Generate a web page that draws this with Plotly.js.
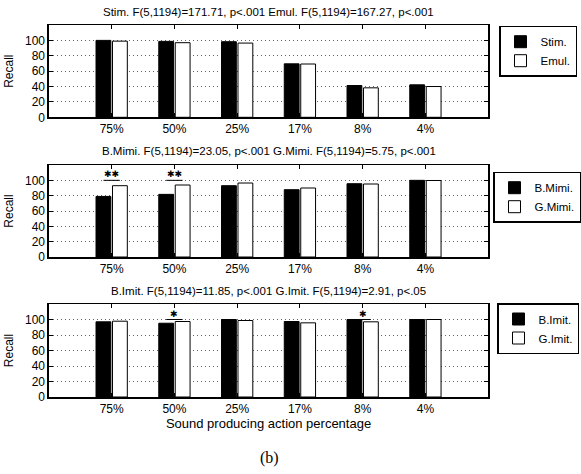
<!DOCTYPE html>
<html>
<head>
<meta charset="utf-8">
<script src="https://cdn.plot.ly/plotly-3.0.1.min.js"></script>
<style>html,body{margin:0;padding:0;background:#fff;}#chart{width:581px;height:474px;}</style>
</head>
<body>
<div id="chart"></div>
<script>
// ---- data ----
var categories = ['75%', '50%', '25%', '17%', '8%', '4%'];
var yTicks = [0, 20, 40, 60, 80, 100];

var stimVals  = [100, 98.7, 98.3, 69.5, 41.3, 42.2];
var emulVals  = [99, 97, 96.5, 69.3, 38.3, 40];

var bMimiVals = [79, 81.7, 93, 87.8, 95.6, 100];
var gMimiVals = [93, 93.9, 96.5, 90, 95.2, 99.8];

var bImitVals = [97, 95.2, 100, 97.4, 100, 100];
var gImitVals = [97.8, 97.4, 98.7, 95.7, 97, 100];

var panelTitles = [
  'Stim. F(5,1194)=171.71, p<.001 Emul. F(5,1194)=167.27, p<.001',
  'B.Mimi. F(5,1194)=23.05, p<.001 G.Mimi. F(5,1194)=5.75, p<.001',
  'B.Imit. F(5,1194)=11.85, p<.001 G.Imit. F(5,1194)=2.91, p<.05'
];
var seriesNames = [['Stim.', 'Emul.'], ['B.Mimi.', 'G.Mimi.'], ['B.Imit.', 'G.Imit.']];
var seriesVals = [[stimVals, emulVals], [bMimiVals, gMimiVals], [bImitVals, gImitVals]];

// significance markers: [panel index, category, label]
var sigMarks = [
  [1, '75%', '\u2731\u2731'],
  [1, '50%', '\u2731\u2731'],
  [2, '50%', '\u2731'],
  [2, '8%', '\u2731']
];

var W = 581, H = 474;
var FONT = 'Liberation Sans, Arial, Helvetica, sans-serif';
var plotLeft = 49, plotRight = 489;
var panelTops = [25, 165, 304];
var panelBottoms = [117.3, 257, 397];
var titleY = [12, 150.7, 290.7];
var legendPos = [[499, 25.7], [494, 171.7], [497, 303]];

var traces = [];
var layout = {
  width: W, height: H,
  margin: {l: 0, r: 0, t: 0, b: 0},
  paper_bgcolor: '#fff', plot_bgcolor: '#fff',
  font: {family: FONT, size: 12, color: '#000'},
  barmode: 'group',
  bargap: 0.475,
  bargroupgap: 0.1,
  annotations: [],
  shapes: []
};

for (var p = 0; p < 3; p++) {
  var sfx = p === 0 ? '' : String(p + 1);
  var xa = 'x' + sfx, ya = 'y' + sfx;
  var lg = 'legend' + sfx;
  for (var s = 0; s < 2; s++) {
    traces.push({
      type: 'bar',
      x: categories,
      y: seriesVals[p][s],
      name: seriesNames[p][s],
      xaxis: xa, yaxis: ya,
      legend: lg,
      marker: {color: s === 0 ? '#000' : '#fff', line: {color: '#000', width: 1}},
      hoverinfo: 'x+y+name'
    });
  }
  var xaxis = {
    domain: [plotLeft / W, plotRight / W],
    anchor: ya,
    type: 'category',
    categoryorder: 'array',
    categoryarray: categories,
    range: [-1, 6],
    showline: true, linecolor: '#000', linewidth: 1.5,
    mirror: 'ticks',
    ticks: 'inside', ticklen: 4, tickcolor: '#000', tickwidth: 1,
    showgrid: false,
    zeroline: false,
    tickfont: {family: FONT, size: 12, color: '#000'}
  };
  if (p === 2) {
    xaxis.title = {text: 'Sound producing action percentage', font: {family: FONT, size: 13, color: '#000'}, standoff: 1};
  }
  var yaxis = {
    domain: [1 - panelBottoms[p] / H, 1 - panelTops[p] / H],
    anchor: xa,
    range: [0, 120],
    tickvals: yTicks,
    showline: true, linecolor: '#000', linewidth: 1.5,
    mirror: 'ticks',
    ticks: 'inside', ticklen: 4, tickcolor: '#000', tickwidth: 1,
    showgrid: true, gridcolor: '#666', griddash: '1px,3px', gridwidth: 1,
    zeroline: false,
    tickfont: {family: FONT, size: 12, color: '#000'},
    title: {text: 'Recall', font: {family: FONT, size: 12, color: '#000'}, standoff: 9}
  };
  layout['xaxis' + sfx] = xaxis;
  layout['yaxis' + sfx] = yaxis;
  layout[lg] = {
    x: legendPos[p][0] / W, y: 1 - legendPos[p][1] / H,
    xanchor: 'left', yanchor: 'top',
    xref: 'paper', yref: 'paper',
    bgcolor: '#fff', bordercolor: '#000', borderwidth: 1.5,
    font: {family: FONT, size: 11.5, color: '#000'},
    itemwidth: 30,
    tracegroupgap: 0
  };
  layout.annotations.push({
    xref: 'paper', yref: 'paper',
    x: ((plotLeft + plotRight) / 2) / W, y: 1 - titleY[p] / H,
    xanchor: 'center', yanchor: 'middle',
    text: panelTitles[p], showarrow: false,
    font: {family: FONT, size: 11.5, color: '#000'}
  });
}

sigMarks.forEach(function (m) {
  var sfx = m[0] === 0 ? '' : String(m[0] + 1);
  layout.shapes.push({
    type: 'line', xref: 'x' + sfx, yref: 'y' + sfx,
    x0: m[1], x1: m[1], x0shift: -0.13, x1shift: 0.13,
    y0: 100, y1: 100,
    line: {color: '#000', width: 1}
  });
  layout.annotations.push({
    xref: 'x' + sfx, yref: 'y' + sfx,
    x: m[1], y: 100, xanchor: 'center', yanchor: 'bottom',
    text: m[2], showarrow: false, yshift: -1,
    font: {family: 'DejaVu Sans, sans-serif', size: 9, color: '#000'}
  });
});

layout.annotations.push({
  xref: 'paper', yref: 'paper', x: 270 / W, y: 1 - 458 / H,
  xanchor: 'center', yanchor: 'middle', showarrow: false,
  text: '(b)', font: {family: 'Liberation Serif, Times New Roman, serif', size: 16, color: '#000'}
});

Plotly.newPlot('chart', traces, layout, {displayModeBar: false, staticPlot: true});
</script>
</body>
</html>
